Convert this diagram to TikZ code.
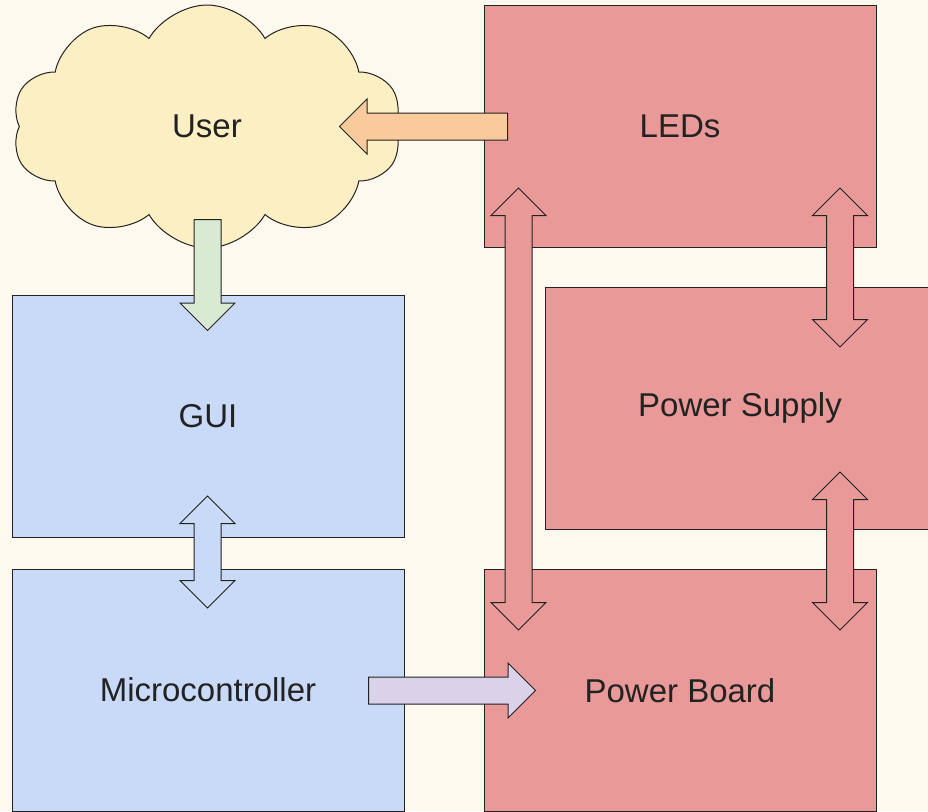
\documentclass[tikz,border=0pt]{standalone}
\usepackage{fontspec}
\setmainfont{Liberation Sans}
\usetikzlibrary{positioning,shapes.symbols,shapes.arrows}
\definecolor{Paper}{HTML}{FEF9EF}
\definecolor{Rose}{HTML}{EA9999}
\definecolor{Sky}{HTML}{C9DAF8}
\definecolor{Butter}{HTML}{FDEFC4}
\definecolor{Peach}{HTML}{F9CB9C}
\definecolor{Sage}{HTML}{D9EAD3}
\definecolor{Lilac}{HTML}{D9D2E9}
\definecolor{Ink}{HTML}{222222}
\tikzset{
  block/.style={draw=Ink,line width=1pt,minimum height=242pt,font=\fontsize{33}{40}\selectfont,text=Ink},
  fatarrow/.style={single arrow,draw=Ink,line width=1pt,inner xsep=0pt,inner ysep=13pt,single arrow head extend=14pt,anchor=tail},
  twoway/.style={double arrow,draw=Ink,line width=1pt,inner xsep=0pt,inner ysep=13pt,double arrow head extend=14pt}
}

\begin{document}
\begin{tikzpicture}[x=1pt,y=-1pt]
        \fill[Paper] (0,0) rectangle (928,811);
        \useasboundingbox (0,0) rectangle (928,811);
        \node[block,cloud,cloud puffs=10,cloud puff arc=120,fill=Butter,minimum width=390pt,minimum height=243pt] (user) at (207,126.5) {User};
        \foreach \n/\x/\y/\w/\c/\t in {leds/680/126.5/392/Rose/LEDs,supply/740/408/390/Rose/Power Supply,board/680/690.5/392/Rose/Power Board,gui/208/416/392/Sky/GUI,micro/208/690/392/Sky/Microcontroller}
          \node[block,fill=\c,minimum width=\w pt] (\n) at (\x,\y) {\t};
        % arrows between the blocks
        \node[fatarrow,fill=Peach,minimum height=168pt,rotate=180] (ledsUser) at (508,126.5) {};
        \node[fatarrow,fill=Sage,minimum height=111pt,rotate=-90] (userGui) at (207.5,219) {};
        \node[fatarrow,fill=Lilac,minimum height=167pt] (microBoard) at (368,690.5) {};
        \node[twoway,fill=Sky,minimum height=112pt,rotate=90] (guiMicro) at (207.5,552) {};
        \foreach \n/\x/\y/\l in {ledsBoard/518.5/409/442,ledsSupply/840/267.5/159,supplyBoard/840/551/158}
          \node[twoway,fill=Rose,minimum height=\l pt,rotate=90] (\n) at (\x,\y) {};
\end{tikzpicture}
\end{document}
